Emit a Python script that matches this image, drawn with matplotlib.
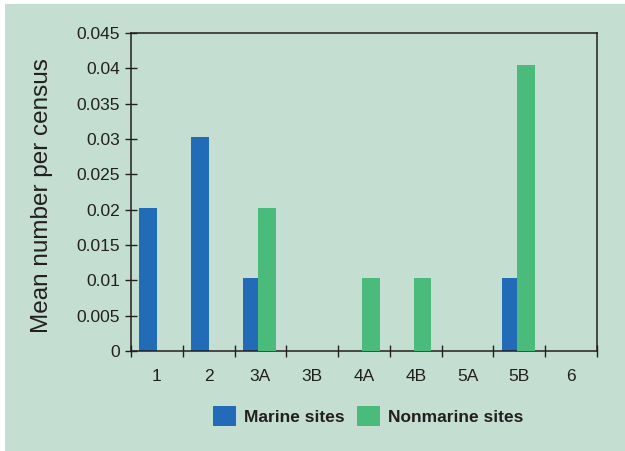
import matplotlib
matplotlib.use("Agg")
import matplotlib.pyplot as plt
import numpy as np
from matplotlib.patches import Rectangle

categories = ["1", "2", "3A", "3B", "4A", "4B", "5A", "5B", "6"]
marine = [0.0202, 0.0303, 0.0103, 0, 0, 0, 0, 0.0103, 0]
nonmarine = [0, 0, 0.0203, 0, 0.0103, 0.0103, 0, 0.0405, 0]
yticks = [0, 0.005, 0.01, 0.015, 0.02, 0.025, 0.03, 0.035, 0.04, 0.045]
yticklabels = ["0", "0.005", "0.01", "0.015", "0.02", "0.025", "0.03", "0.035", "0.04", "0.045"]

bg = "#c4dfd2"
blue = "#226bb7"
green = "#4abb7a"
txt = "#231f20"

plt.rcParams['font.family'] = ['Liberation Sans', 'DejaVu Sans']

fig = plt.figure(figsize=(6.25, 4.51), dpi=100)
fig.patch.set_facecolor("white")
fig.patches.append(Rectangle((5/625, 0), 1, 1 - 4/451, transform=fig.transFigure,
                             facecolor=bg, edgecolor="none", zorder=-10))

ax = fig.add_axes([131/625, 1 - 351/451, (597-131)/625, (351-33)/451])
ax.set_facecolor(bg)

x = np.arange(len(categories)) + 0.5
ax.bar(x - 0.17, marine, width=0.34, color=blue, label="Marine sites", zorder=2)
ax.bar(x + 0.13, nonmarine, width=0.34, color=green, label="Nonmarine sites", zorder=3)

ax.set_xlim(0, len(categories))
ax.set_ylim(0, 0.045)
ax.set_yticks(yticks)
ax.set_yticklabels(yticklabels)
ax.set_xticks(np.arange(len(categories) + 1))
ax.set_xticklabels([])
ax.set_xticks(x, minor=True)
ax.set_xticklabels(categories, minor=True)
ax.tick_params(axis="x", which="major", direction="inout", length=8, width=1.0, color=txt)
ax.tick_params(axis="x", which="minor", length=0, pad=13, labelsize=12.5, labelcolor=txt)
ax.tick_params(axis="y", direction="inout", length=8, width=1.0, color=txt, pad=4,
               labelsize=12.5, labelcolor=txt)
for s in ax.spines.values():
    s.set_color(txt)
    s.set_linewidth(1.1)

ax.set_ylabel("Mean number per census", fontsize=17.5, color=txt)
ax.yaxis.set_label_coords(-0.168, 0.49)

leg = fig.legend(loc="center", bbox_to_anchor=(0.589, 1 - 416/451), ncol=2, frameon=False,
                 handlelength=1.33, handleheight=1.33, handletextpad=0.45, columnspacing=0.75,
                 prop={"weight": "bold", "size": 12.5})
for t in leg.get_texts():
    t.set_color(txt)

fig.savefig("out.png", dpi=100, facecolor=fig.get_facecolor())
